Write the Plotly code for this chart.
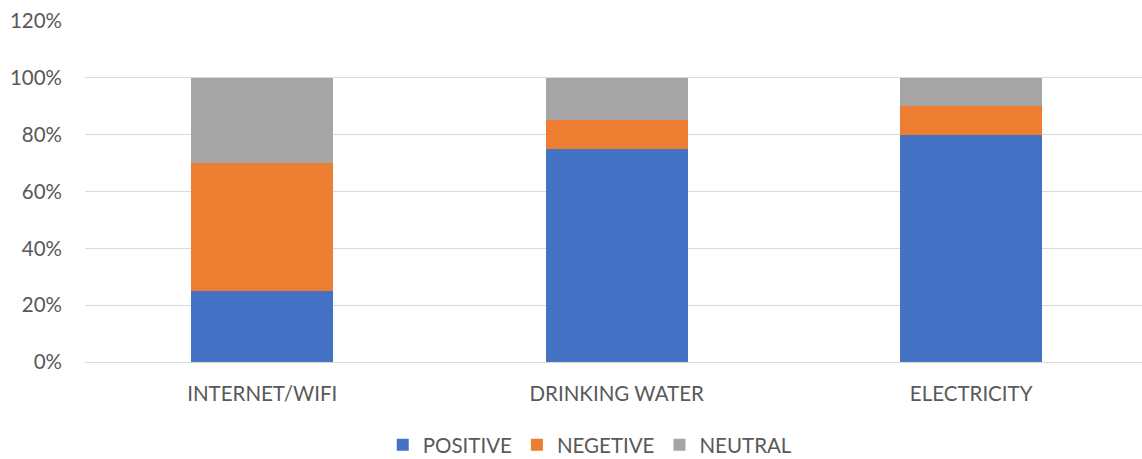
import plotly.graph_objects as go

categories = ["INTERNET/WIFI", "DRINKING WATER", "ELECTRICITY"]
positive = [0.25, 0.75, 0.80]
negetive = [0.45, 0.10, 0.10]
neutral = [0.30, 0.15, 0.10]
y_ticks = [0, 0.2, 0.4, 0.6, 0.8, 1.0, 1.2]

series = [
    ("POSITIVE", positive, "#4472C4"),
    ("NEGETIVE", negetive, "#ED7D31"),
    ("NEUTRAL", neutral, "#A5A5A5"),
]

fig = go.Figure()
for name, vals, color in series:
    fig.add_trace(go.Bar(
        x=categories, y=vals, name=name,
        marker=dict(color=color, line=dict(width=0)),
    ))

font_color = "#595959"
fs = 20.5
fig.update_layout(
    barmode="stack",
    bargap=0.6,
    width=1142, height=459,
    margin=dict(l=85, r=0, t=21, b=97, autoexpand=False),
    paper_bgcolor="white",
    plot_bgcolor="white",
    font=dict(family="Lato, 'Open Sans', sans-serif", size=fs, color=font_color),
    showlegend=True,
    legend=dict(
        orientation="h",
        x=0.478, xanchor="center",
        y=-0.243, yanchor="middle",
        font=dict(size=fs, color=font_color),
        itemwidth=30,
        traceorder="normal",
        itemclick=False,
    ),
    xaxis=dict(
        range=[-0.5, 2.482],
        showgrid=False,
        showline=False,
        ticks="",
        ticklabelstandoff=17,
        tickfont=dict(size=fs, color=font_color),
    ),
    yaxis=dict(
        range=[0, 1.2],
        tickvals=y_ticks,
        tickformat=".0%",
        showgrid=True,
        gridcolor="#D9D9D9",
        gridwidth=1.3,
        zeroline=True,
        zerolinecolor="#D9D9D9",
        zerolinewidth=1.3,
        showline=False,
        ticks="",
        ticklabelstandoff=22,
        tickfont=dict(size=fs, color=font_color),
    ),
)

fig.write_html("out.html")
